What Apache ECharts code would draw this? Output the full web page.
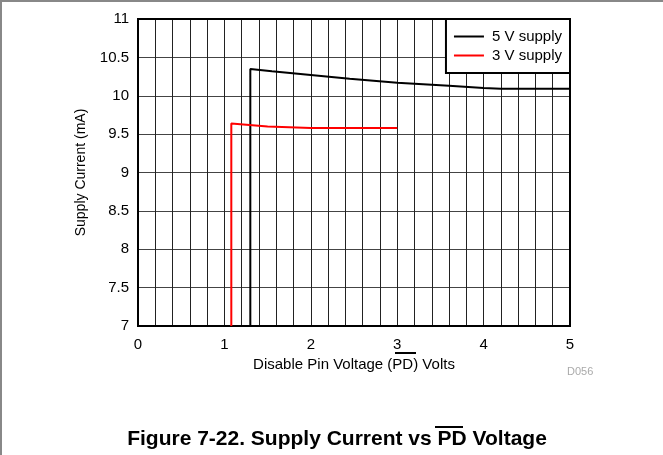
<!DOCTYPE html>
<html>
    <head>
        <meta charset="utf-8">
        <title>Supply Current vs PD Voltage</title>
        <script src="https://cdn.jsdelivr.net/npm/echarts@6/dist/echarts.min.js"></script>
        <style>
            body { margin: 0; background: #fff; }
        </style>
    </head>
    <body>
        <div id="chart" style="width: 663px;height: 455px;"></div>
        <script>
            // 5 V supply curve
            var x5 = [1.3, 1.3, 1.55, 2, 2.45, 3, 3.6, 4, 4.2, 5];
            var y5 = [7, 10.35, 10.32, 10.27, 10.22, 10.17, 10.13, 10.10, 10.09, 10.09];
            // 3 V supply curve
            var x3 = [1.08, 1.08, 1.5, 2, 3];
            var y3 = [7, 9.64, 9.6, 9.58, 9.58];

            var seriesNames = ['5 V supply', '3 V supply'];
            var seriesColors = ['#000000', '#ff0000'];

            function pairs(xs, ys) {
                var out = [];
                for (var i = 0; i < xs.length; i++) {
                    out.push([xs[i], ys[i]]);
                }
                return out;
            }

            var font = "'Liberation Sans', Arial, sans-serif";
            var myChart = echarts.init(document.getElementById('chart'));

            option = {
                backgroundColor: '#fff',
                animation: false,
                textStyle: { fontFamily: font },
                title: {
                    text: 'Figure 7-22. Supply Current vs PD Voltage',
                    left: 332,
                    top: 424,
                    textAlign: 'center',
                    textStyle: { fontFamily: font, fontSize: 21, fontWeight: 'bold', color: '#000' }
                },
                legend: {
                    data: seriesNames,
                    orient: 'vertical',
                    right: 93,
                    top: 19,
                    icon: 'rect',
                    itemWidth: 30,
                    itemHeight: 2,
                    itemGap: 4,
                    padding: [10, 8, 10, 8],
                    backgroundColor: '#fff',
                    borderColor: '#000',
                    borderWidth: 2,
                    borderRadius: 0,
                    textStyle: { fontFamily: font, fontSize: 15, color: '#000', padding: [0, 0, 0, 3] }
                },
                grid: {
                    left: 138,
                    right: 93,
                    top: 19,
                    bottom: 129,
                    show: true,
                    borderColor: '#000',
                    borderWidth: 2,
                    z: 3
                },
                xAxis: {
                    type: 'value',
                    min: 0,
                    max: 5,
                    interval: 1,
                    name: 'Disable Pin Voltage (PD) Volts',
                    nameLocation: 'middle',
                    nameGap: 28,
                    nameTextStyle: { fontFamily: font, fontSize: 15, color: '#000' },
                    axisLine: { show: false },
                    axisTick: { show: false },
                    axisLabel: { margin: 11, fontSize: 15, color: '#000', fontFamily: font },
                    splitLine: { show: true, lineStyle: { color: '#222', width: 1 } },
                    minorTick: { show: false, splitNumber: 5 },
                    minorSplitLine: { show: true, lineStyle: { color: '#222', width: 1 } }
                },
                yAxis: {
                    type: 'value',
                    min: 7,
                    max: 11,
                    interval: 0.5,
                    name: 'Supply Current (mA)',
                    nameLocation: 'middle',
                    nameGap: 50,
                    nameTextStyle: { fontFamily: font, fontSize: 14, color: '#000' },
                    axisLine: { show: false },
                    axisTick: { show: false },
                    axisLabel: { margin: 9, fontSize: 15, color: '#000', fontFamily: font },
                    splitLine: { show: true, lineStyle: { color: '#444', width: 1 } }
                },
                graphic: [
                    // thin frame along the top and left of the figure
                    { type: 'rect', left: 0, top: 0, shape: { width: 663, height: 2 }, style: { fill: '#888' } },
                    { type: 'rect', left: 0, top: 0, shape: { width: 2, height: 455 }, style: { fill: '#888' } },
                    // overline on PD in the axis name
                    { type: 'rect', left: 395, top: 352, shape: { width: 21, height: 2 }, style: { fill: '#000' } },
                    // overline on PD in the caption
                    { type: 'rect', left: 435, top: 426, shape: { width: 28, height: 2 }, style: { fill: '#000' } },
                    {
                        type: 'text', left: 567, top: 366,
                        style: { text: 'D056', fill: '#aaa', font: '11px ' + font }
                    }
                ],
                series: [{
                    name: seriesNames[0],
                    type: 'line',
                    data: pairs(x5, y5),
                    showSymbol: false,
                    color: seriesColors[0],
                    lineStyle: { width: 2, color: seriesColors[0] },
                    z: 4
                }, {
                    name: seriesNames[1],
                    type: 'line',
                    data: pairs(x3, y3),
                    showSymbol: false,
                    color: seriesColors[1],
                    lineStyle: { width: 2, color: seriesColors[1] },
                    z: 4
                }]
            };

            myChart.setOption(option);
        </script>
    </body>
</html>
